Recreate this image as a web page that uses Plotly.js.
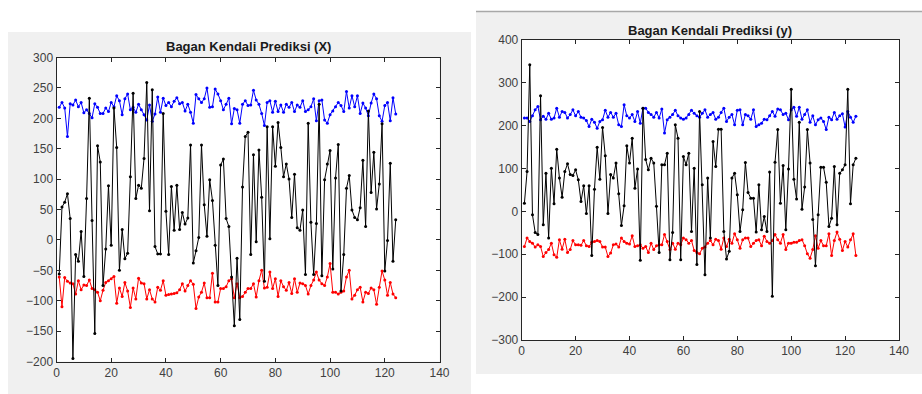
<!DOCTYPE html>
<html>
<head>
<meta charset="utf-8">
<script src="https://cdn.plot.ly/plotly-3.0.1.min.js"></script>
<style>
html,body{margin:0;padding:0;background:#fff;}
#chart{width:922px;height:394px;}
</style>
</head>
<body>
<div id="chart"></div>
<script>
// ---- Data ----
const titleLeft = "Bagan Kendali Prediksi (X)";
const titleRight = "Bagan Kendali Prediksi (y)";

const leftCenter = [-56,54,62,76,35,-195,-24,-35,14,-60,68,233,32,-154,155,128,-75,-15,89,-9,217,152,-50,17,-31,-22,104,241,68,90,85,134,259,48,247,-11,-23,-23,208,47,-24,88,16,90,17,45,26,36,156,-38,-18,4,156,58,6,99,65,-9,-75,123,133,35,22,-61,-141,-30,-131,87,170,177,-24,140,-3,148,70,-68,186,2,186,121,193,152,104,125,100,37,108,20,16,49,-57,192,29,-57,27,223,-59,99,125,147,-48,102,157,-84,-24,85,106,49,37,33,53,131,22,212,78,144,51,92,191,-51,-1,126,-35,33];
const leftUpper = [218,226,217,170,224,222,230,219,226,209,214,208,201,224,218,208,208,217,211,226,219,237,229,206,232,240,214,218,210,223,214,206,197,222,195,207,235,210,233,221,226,219,228,234,224,226,212,223,210,192,239,232,226,232,250,218,219,248,240,229,214,223,233,191,216,214,192,223,229,221,222,246,230,223,208,188,226,229,210,228,211,222,210,223,218,226,211,222,218,229,211,214,219,232,196,229,230,197,192,206,212,219,226,221,211,244,217,237,219,237,208,225,217,204,225,240,232,204,195,221,226,196,234,207];
const leftLower = [-61,-110,-62,-68,-71,-72,-89,-67,-82,-74,-75,-66,-80,-82,-86,-100,-83,-70,-67,-64,-60,-104,-79,-93,-70,-84,-111,-79,-97,-63,-71,-72,-97,-82,-97,-102,-78,-83,-67,-91,-90,-89,-88,-87,-82,-72,-84,-75,-67,-73,-113,-94,-86,-71,-95,-95,-55,-102,-102,-80,-80,-77,-67,-64,-95,-72,-95,-93,-86,-80,-80,-72,-94,-67,-50,-79,-78,-53,-80,-64,-93,-67,-77,-83,-70,-88,-64,-86,-71,-72,-75,-89,-75,-66,-53,-66,-72,-75,-61,-39,-86,-86,-89,-86,-84,-61,-50,-97,-91,-82,-78,-102,-86,-88,-79,-82,-106,-78,-51,-66,-91,-70,-89,-95];

const rightCenter = [19,93,342,-8,-49,-54,270,-31,89,-62,101,18,145,78,33,93,111,86,84,97,74,23,60,-5,60,-103,52,150,75,196,130,-5,86,78,113,41,-33,13,153,113,171,54,99,-114,241,121,97,124,113,12,-96,109,109,136,-113,-49,202,171,-113,128,109,136,-47,101,-124,233,62,-148,78,-62,163,105,192,192,-47,-111,-93,78,89,39,-47,4,114,44,31,31,-48,62,-43,-12,-47,92,-198,115,191,19,107,-43,99,285,75,29,208,5,57,191,113,-19,-127,-8,103,103,68,-35,-16,105,-31,89,97,109,285,18,109,124];
const rightUpper = [218,218,210,223,237,245,214,222,215,229,215,218,241,220,233,231,218,226,237,223,233,220,218,212,198,215,208,194,210,214,236,220,231,220,229,202,198,249,223,218,226,210,233,206,241,241,231,226,220,231,218,239,183,214,220,226,236,223,218,215,218,226,236,229,223,220,229,237,220,226,231,215,220,231,241,210,220,226,202,236,237,202,226,223,215,237,198,202,206,215,214,223,233,222,239,237,226,229,214,237,243,222,243,215,226,237,208,223,202,214,218,210,191,220,214,231,215,223,228,197,233,220,208,222];
const rightLower = [-82,-62,-70,-74,-83,-78,-82,-105,-96,-89,-74,-101,-107,-66,-88,-65,-96,-89,-68,-78,-78,-79,-68,-80,-82,-72,-70,-68,-70,-83,-83,-105,-97,-78,-76,-83,-62,-70,-74,-76,-57,-82,-80,-78,-86,-82,-96,-74,-89,-80,-78,-78,-54,-70,-89,-74,-88,-74,-78,-62,-66,-74,-68,-91,-96,-99,-86,-83,-74,-68,-78,-65,-68,-88,-62,-82,-65,-74,-52,-66,-86,-66,-62,-62,-82,-74,-68,-66,-80,-58,-70,-74,-68,-54,-66,-74,-54,-89,-74,-74,-72,-72,-68,-66,-80,-99,-109,-89,-57,-86,-68,-80,-80,-52,-103,-68,-48,-65,-91,-70,-83,-66,-52,-103];

const xTicks = [0,20,40,60,80,100,120,140];
const yTicksLeft = [-200,-150,-100,-50,0,50,100,150,200,250,300];
const yTicksRight = [-300,-200,-100,0,100,200,300,400];

// ---- Build traces ----
function idx(arr){ return arr.map((_, i) => i + 1); }
function series(y, color, xa, ya){
  return {
    x: idx(y), y: y, xaxis: xa, yaxis: ya,
    type: 'scatter', mode: 'lines+markers',
    line: {color: color, width: 1},
    marker: {color: color, size: 3},
    hoverinfo: 'skip', showlegend: false
  };
}
const traces = [
  series(leftUpper, '#0000ff', 'x', 'y'),
  series(leftLower, '#ff0000', 'x', 'y'),
  series(leftCenter, '#000000', 'x', 'y'),
  series(rightUpper, '#0000ff', 'x2', 'y2'),
  series(rightLower, '#ff0000', 'x2', 'y2'),
  series(rightCenter, '#000000', 'x2', 'y2')
];

const W = 922, H = 394;
const px = v => v / W;
const py = v => 1 - v / H;

const axisCommon = {
  showline: true, mirror: 'ticks', linecolor: '#262626', linewidth: 1,
  ticks: 'inside', ticklen: 4, tickcolor: '#262626', tickwidth: 1,
  showgrid: false, zeroline: false,
  tickfont: {family: 'Liberation Sans, Arial, sans-serif', size: 12, color: '#404040'},
  fixedrange: true
};

const L = {x0: 56.5, x1: 439.5, y0: 57.5, y1: 361.5};
const R = {x0: 521.7, x1: 899, y0: 40, y1: 340};

const layout = {
  width: W, height: H,
  margin: {l: 0, r: 0, t: 0, b: 0},
  paper_bgcolor: '#ffffff',
  plot_bgcolor: '#ffffff',
  showlegend: false,
  xaxis: Object.assign({}, axisCommon, {domain: [px(L.x0), px(L.x1)], range: [0, 140], tickvals: xTicks, anchor: 'y'}),
  yaxis: Object.assign({}, axisCommon, {domain: [py(L.y1), py(L.y0)], range: [-200, 300], tickvals: yTicksLeft, anchor: 'x'}),
  xaxis2: Object.assign({}, axisCommon, {domain: [px(R.x0), px(R.x1)], range: [0, 140], tickvals: xTicks, anchor: 'y2'}),
  yaxis2: Object.assign({}, axisCommon, {domain: [py(R.y1), py(R.y0)], range: [-300, 400], tickvals: yTicksRight, anchor: 'x2'}),
  shapes: [
    {type: 'rect', xref: 'paper', yref: 'paper', x0: px(8), x1: px(471), y0: 0, y1: py(32),
     fillcolor: '#f0f0f0', line: {width: 0}, layer: 'below'},
    {type: 'rect', xref: 'paper', yref: 'paper', x0: px(476), x1: 1, y0: py(374), y1: py(11),
     fillcolor: '#f0f0f0', line: {width: 0}, layer: 'below'},
    {type: 'line', xref: 'paper', yref: 'paper', x0: px(476), x1: 1, y0: py(11.5), y1: py(11.5),
     line: {color: '#a8a8a8', width: 1.5}, layer: 'below'},
    {type: 'rect', xref: 'paper', yref: 'paper', x0: px(L.x0), x1: px(L.x1), y0: py(L.y1), y1: py(L.y0),
     fillcolor: '#ffffff', line: {width: 0}, layer: 'below'},
    {type: 'rect', xref: 'paper', yref: 'paper', x0: px(R.x0), x1: px(R.x1), y0: py(R.y1), y1: py(R.y0),
     fillcolor: '#ffffff', line: {width: 0}, layer: 'below'}
  ],
  annotations: [
    {text: '<b>' + titleLeft + '</b>', xref: 'paper', yref: 'paper', x: px(248), y: py(46),
     xanchor: 'center', yanchor: 'middle', showarrow: false,
     font: {family: 'Liberation Sans, Arial, sans-serif', size: 13, color: '#1a1a1a'}},
    {text: '<b>' + titleRight + '</b>', xref: 'paper', yref: 'paper', x: px(710), y: py(31),
     xanchor: 'center', yanchor: 'middle', showarrow: false,
     font: {family: 'Liberation Sans, Arial, sans-serif', size: 13, color: '#1a1a1a'}}
  ]
};

Plotly.newPlot('chart', traces, layout, {displayModeBar: false, staticPlot: true});
</script>
</body>
</html>
